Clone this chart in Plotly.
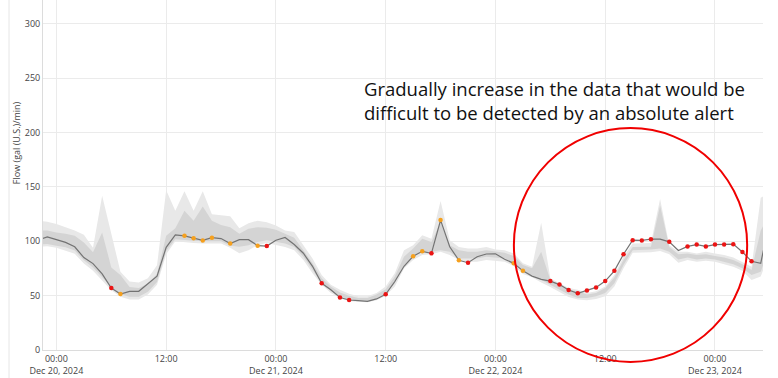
import pandas as pd
import plotly.graph_objects as go

# hourly samples from 2024-12-19 22:00
start_time = "2024-12-19 22:00"

flow = [101, 104, 101.5, 99, 95, 85, 79.5, 70, 57, 51.5, 54, 54, 61, 68, 94.5, 106, 105, 102.7, 100.8, 103.3,
        102.5, 98, 101.5, 101.5, 96, 95.6, 101, 103.5, 97, 89, 77, 61.4, 55.5, 48.3, 46, 45.5, 44.7, 47, 51.3, 63,
        77, 86.2, 90.8, 88.9, 119.5, 95, 82.5, 80.3, 85.8, 88.3, 88.5, 83.5, 79.7, 72.8, 68, 65, 63.4, 60.2, 55.2, 52.1,
        54.8, 57.6, 63.4, 72.8, 88.1, 101, 100.8, 102, 102, 99.5, 91.5, 95.3, 97, 95.3, 97, 97, 97.4, 90.2, 81.6, 79.8,
        120]

outer_upper = [119, 118, 116, 113, 110, 106, 94, 142, 106, 72, 63, 62, 66, 78, 147, 128, 146, 128, 146, 125,
               124, 123, 112, 116.7, 119, 117.6, 114.5, 110, 108.5, 96.4, 84.2, 69, 60, 55.5, 51.8, 49.4, 49.4, 52.4, 58.5, 70.6,
               91.8, 96.4, 105.5, 102.4, 137, 101, 94.8, 93.3, 93.3, 94.8, 92.4, 91.8, 88.8, 79.7, 76.7, 117, 66, 61.5, 57, 55.5,
               52.4, 54, 58.5, 69, 85.8, 97.9, 97.9, 98.5, 139, 96.4, 90.3, 90.3, 88.8, 90.3, 88.8, 87.3, 85, 81.2, 76.7, 140,
               145]
inner_upper = [110, 110, 108, 107, 105, 99, 90, 108, 76, 69, 58, 57, 61, 70, 105, 112, 128, 119, 132, 119,
               115, 113, 107, 111.5, 113, 112.4, 110.6, 107, 103.3, 91.8, 79.7, 66, 58.5, 53, 50, 47.9, 47.9, 51, 56, 67.6,
               85.8, 93.3, 102.4, 99.4, 117.6, 96.4, 91.8, 90.3, 90.3, 91.8, 90.3, 89.4, 86.4, 78.2, 75.2, 90.3, 64.5, 60, 55.5, 54,
               51, 52.4, 57, 66.7, 82.7, 94.8, 94.8, 95, 133, 94.8, 88.2, 88.8, 87.3, 88.2, 86.4, 85, 82.7, 79, 73.6, 110,
               125]
inner_lower = [97, 97.5, 96, 94.5, 91.5, 82.5, 76, 67, 58, 51, 49, 49, 53.5, 62.5, 91, 102, 101, 100.5, 100, 100,
               100, 96, 95, 96.4, 99.4, 101, 99.4, 97.9, 94.8, 85.8, 73.6, 61.5, 54, 49.4, 46.4, 45.5, 45, 47.3, 51.8, 61.5,
               78, 85.8, 90.3, 90.3, 91.8, 90.3, 84.2, 84.2, 84.2, 85.8, 85.2, 84.2, 79.7, 72, 69, 64.5, 60, 55.5, 51, 47.9,
               47.9, 49.4, 52.4, 61.5, 78.2, 91.8, 91.8, 92.4, 93.3, 90.3, 83.3, 85, 83.3, 84.2, 83.3, 81.2, 79, 75.2, 69, 72,
               95]
outer_lower = [95, 95.5, 94, 91.5, 88.5, 79.5, 73, 64, 55, 49, 46.5, 46.5, 51, 60, 88, 100, 99, 98.5, 98, 98,
               98, 94, 89, 91.8, 96.4, 98.5, 96.4, 94.8, 91.8, 82.7, 70.6, 60, 52.4, 47.9, 44.8, 44.2, 43.9, 45.8, 50, 58.5,
               75, 82.7, 87.3, 88.2, 90.3, 87.3, 82.7, 81.2, 81.2, 82.7, 82.1, 81.2, 77.3, 70, 67, 62, 57.9, 53, 48.8, 46.4,
               45.8, 47, 49.4, 58.5, 75.2, 89.4, 89.4, 90, 91, 88.2, 80.3, 82.7, 81.2, 82, 81.2, 79, 76.7, 73, 64.5, 67.6,
               90]

# anomaly flags (index into the hourly series)
red_idx = [8, 25, 31, 33, 34, 38, 43, 47, 56, 57, 58, 59, 60, 61, 62, 63, 64, 65, 66, 67, 69, 71, 72, 73, 74, 75, 76, 77, 78]
orange_idx = [9, 16, 17, 18, 19, 21, 24, 41, 42, 44, 46, 52, 53]

y_ticks = [0, 50, 100, 150, 200, 250, 300]
note_text = "Gradually increase in the data that would be<br>difficult to be detected by an absolute alert"
y_title = "Flow (gal (U.S.)/min)"

times = pd.date_range(start_time, periods=len(flow), freq="h")

fig = go.Figure()
fig.add_trace(go.Scatter(x=times, y=outer_lower, mode="lines", line=dict(width=0), showlegend=False, hoverinfo="skip"))
fig.add_trace(go.Scatter(x=times, y=outer_upper, mode="lines", line=dict(width=0), fill="tonexty",
                         fillcolor="rgb(232,232,232)", showlegend=False, hoverinfo="skip"))
fig.add_trace(go.Scatter(x=times, y=inner_lower, mode="lines", line=dict(width=0), showlegend=False, hoverinfo="skip"))
fig.add_trace(go.Scatter(x=times, y=inner_upper, mode="lines", line=dict(width=0), fill="tonexty",
                         fillcolor="rgb(212,212,212)", showlegend=False, hoverinfo="skip"))
fig.add_trace(go.Scatter(x=times, y=flow, mode="lines", line=dict(color="rgb(115,115,115)", width=1.2), showlegend=False))
fig.add_trace(go.Scatter(x=[times[i] for i in orange_idx], y=[flow[i] for i in orange_idx], mode="markers",
                         marker=dict(color="rgb(245,160,30)", size=4.5), showlegend=False))
fig.add_trace(go.Scatter(x=[times[i] for i in red_idx], y=[flow[i] for i in red_idx], mode="markers",
                         marker=dict(color="rgb(235,20,20)", size=4.5), showlegend=False))

fig.update_layout(
    width=778, height=378,
    margin=dict(l=43, r=15, t=0, b=28, autoexpand=False),
    plot_bgcolor="white", paper_bgcolor="white",
    font=dict(family="Open Sans", size=9, color="#444"),
    xaxis=dict(range=["2024-12-19 22:32", "2024-12-23 05:15"], dtick=12 * 3600 * 1000, tick0="2024-12-20",
               showgrid=True, gridcolor="#ebebeb", gridwidth=1, showline=True, linecolor="#dcdcdc",
               ticks="", tickfont=dict(size=9, color="#444"), automargin=False, zeroline=False),
    yaxis=dict(range=[0, 322], tickvals=y_ticks, showgrid=True, gridcolor="#ebebeb", showline=True,
               linecolor="#dcdcdc", zeroline=False, ticks="", tickfont=dict(size=9, color="#444"), automargin=False),
    shapes=[
        dict(type="circle", xref="paper", yref="paper", x0=0.654, x1=0.978, y0=-0.034, y1=0.634,
             line=dict(color="rgb(240,0,0)", width=2)),
        dict(type="line", xref="paper", yref="paper", x0=-0.0472, x1=-0.0472, y0=-0.08, y1=1.0,
             line=dict(color="#e6e6e6", width=1)),
    ],
    annotations=[
        dict(text=note_text, xref="paper", yref="paper", x=0.4426, y=0.79, xanchor="left", yanchor="top",
             showarrow=False, align="left", font=dict(family="Open Sans", size=18.5, color="#111")),
        dict(text=y_title, xref="paper", yref="paper", x=-0.0375, y=0.591, xanchor="center", yanchor="middle",
             textangle=-90, showarrow=False, font=dict(family="Open Sans", size=9, color="#444")),
    ],
)

fig.write_html("out.html", config={"displayModeBar": False},
               post_script="document.body.style.margin='0';document.body.style.overflow='hidden';")
